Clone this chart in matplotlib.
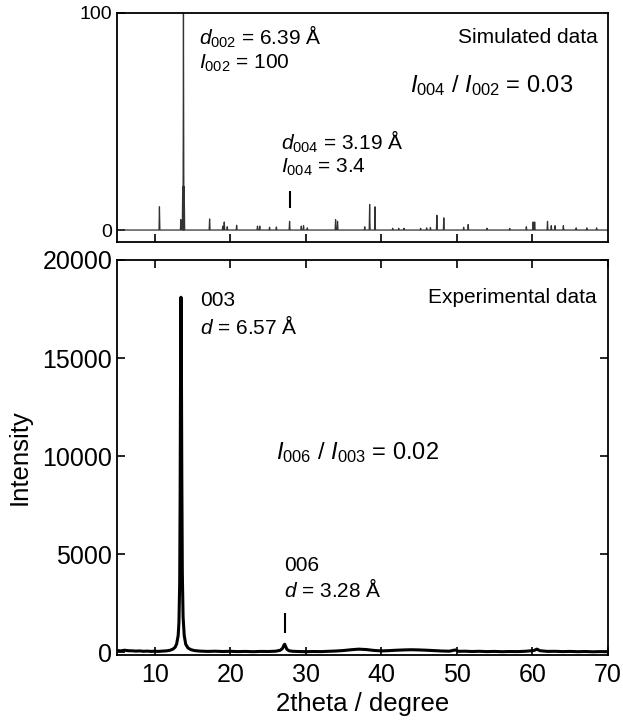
import numpy as np
import matplotlib
matplotlib.use('Agg')
import matplotlib.pyplot as plt

plt.rcParams['font.family'] = ['Liberation Sans', 'DejaVu Sans']
plt.rcParams['mathtext.fontset'] = 'custom'
plt.rcParams['mathtext.rm'] = 'Liberation Sans'
plt.rcParams['mathtext.it'] = 'Liberation Sans:italic'

# simulated pattern: peak positions (2theta) and relative intensities
sim_pos = [10.62, 13.45, 13.7, 13.8, 13.9, 17.26, 19.0, 19.2, 19.6, 20.84, 23.6, 23.9,
           25.2, 26.1, 27.85, 29.4, 29.7, 30.2, 33.94, 34.2, 37.8, 38.45, 39.16,
           41.5, 42.3, 43.0, 45.2, 46.0, 46.5, 47.35, 48.27, 50.9, 51.5, 54.0,
           57.0, 59.2, 60.1, 60.3, 62.0, 62.5, 63.0, 64.1, 65.8, 67.2, 68.5]
sim_int = [10.7, 4.8, 20.0, 100.0, 20.0, 5.1, 1.8, 3.7, 1.5, 2.2, 1.8, 1.8,
           1.3, 1.4, 4.0, 1.8, 2.0, 1.0, 4.8, 4.0, 1.5, 11.8, 10.7,
           0.8, 0.8, 0.8, 0.8, 1.0, 1.2, 6.8, 5.6, 1.3, 2.5, 0.8,
           0.7, 1.5, 3.7, 3.7, 4.0, 2.0, 2.0, 2.0, 1.0, 1.0, 1.0]

# experimental pattern
exp_x = [5.0, 5.5, 6.0, 6.5, 7.0, 7.5, 8.0, 8.5, 9.0, 9.5, 10.0, 10.5, 11.0, 11.5,
         12.0, 12.4, 12.7, 12.9, 13.1, 13.2, 13.3, 13.36, 13.42, 13.47, 13.52,
         13.58, 13.65, 13.75, 13.9, 14.1, 14.4, 14.8, 15.3, 16.0, 17.0, 18.0,
         19.0, 20.0, 21.0, 22.0, 23.0, 24.0, 25.0, 26.0, 26.6, 26.9, 27.1, 27.2,
         27.3, 27.5, 27.8, 28.3, 29.0, 30.0, 31.0, 32.0, 33.0, 34.0, 35.0, 36.0,
         37.0, 38.0, 39.0, 40.0, 41.0, 42.0, 43.0, 44.0, 45.0, 46.0, 47.0, 48.0,
         49.0, 49.8, 50.2, 51.0, 52.0, 53.0, 54.0, 55.0, 56.0, 57.0, 58.0, 59.0,
         60.2, 60.6, 61.0, 62.0, 63.0, 64.0, 65.0, 66.0, 67.0, 68.0, 69.0, 70.0]
exp_y = [80, 60, 95, 70, 65, 50, 60, 40, 50, 35, 45, 35, 50, 60,
         90, 150, 250, 420, 850, 1500, 3500, 8000, 15000, 18100, 15500,
         9000, 4000, 1800, 850, 400, 210, 120, 75, 50, 35, 45,
         30, 40, 25, 35, 20, 35, 30, 45, 90, 180, 350, 400,
         310, 140, 65, 40, 30, 20, 30, 25, 40, 55, 80, 120,
         150, 130, 85, 60, 75, 95, 110, 120, 110, 95, 75, 55,
         45, 110, 40, 45, 30, 40, 25, 35, 20, 30, 25, 40,
         80, 150, 70, 35, 40, 25, 35, 20, 30, 15, 25, 20]

sim_mark = 27.85
exp_mark = 27.2

# build the stick-like simulated trace from the peak list
w = 0.06
sx = [5.0]
sy = [0.0]
for p, h in zip(sim_pos, sim_int):
    sx += [p - w, p, p + w]
    sy += [0.0, h, 0.0]
sx.append(70.0)
sy.append(0.0)

fig = plt.figure(figsize=(6.23, 7.21), dpi=100)
ax1 = fig.add_axes([0.1878, 0.6644, 0.788, 0.3176])
ax2 = fig.add_axes([0.1878, 0.0915, 0.788, 0.5479])

ax1.plot(sx, sy, color='#333333', linewidth=0.9)
ax1.set_xlim(5, 70)
ax1.set_ylim(-5.5, 100)
ax1.set_yticks([0, 100])
ax1.set_xticks([10, 20, 30, 40, 50, 60])
ax1.set_xticklabels([])
ax1.tick_params(direction='in', length=6, width=1.2, labelsize=14,
                top=False, right=False)

ax1.text(15.9, 88.9, r'$d_{002}$ = 6.39 Å', fontsize=15, va='center')
ax1.text(15.9, 76.9, r'$I_{002}$ = 100', fontsize=15, va='center')
ax1.text(26.7, 40.4, r'$d_{004}$ = 3.19 Å', fontsize=15, va='center')
ax1.text(26.7, 28.8, r'$I_{004}$ = 3.4', fontsize=15, va='center')
ax1.text(43.8, 66.7, r'$I_{004}$ / $I_{002}$ = 0.03', fontsize=17, va='center')
ax1.text(0.98, 0.895, 'Simulated data', transform=ax1.transAxes,
         fontsize=15, ha='right', va='center')
ax1.vlines(sim_mark, 10, 18, color='black', linewidth=1.5)

ax2.plot(exp_x, exp_y, color='black', linewidth=2.2)
ax2.set_xlim(5, 70)
ax2.set_ylim(-150, 20000)
ax2.set_xticks([10, 20, 30, 40, 50, 60, 70])
ax2.set_yticks([0, 5000, 10000, 15000, 20000])
ax2.tick_params(direction='in', length=6, width=1.2, labelsize=18,
                top=True, right=True)
ax2.tick_params(axis='x', pad=6)
ax2.set_xlabel('2theta / degree', fontsize=18.5, labelpad=3)
ax2.set_ylabel('Intensity', fontsize=18.5, labelpad=8)

ax2.text(16.0, 17940, '003', fontsize=15, va='center')
ax2.text(16.0, 16620, r'$d$ = 6.57 Å', fontsize=15, va='center')
ax2.text(27.17, 4440, '006', fontsize=15, va='center')
ax2.text(27.17, 3170, r'$d$ = 3.28 Å', fontsize=15, va='center')
ax2.text(26.06, 10190, r'$I_{006}$ / $I_{003}$ = 0.02', fontsize=17, va='center')
ax2.text(0.977, 0.906, 'Experimental data', transform=ax2.transAxes,
         fontsize=15, ha='right', va='center')
ax2.vlines(exp_mark, 990, 2000, color='black', linewidth=1.5)

for ax in (ax1, ax2):
    for s in ax.spines.values():
        s.set_linewidth(1.3)

plt.savefig('out.png', dpi=100)
